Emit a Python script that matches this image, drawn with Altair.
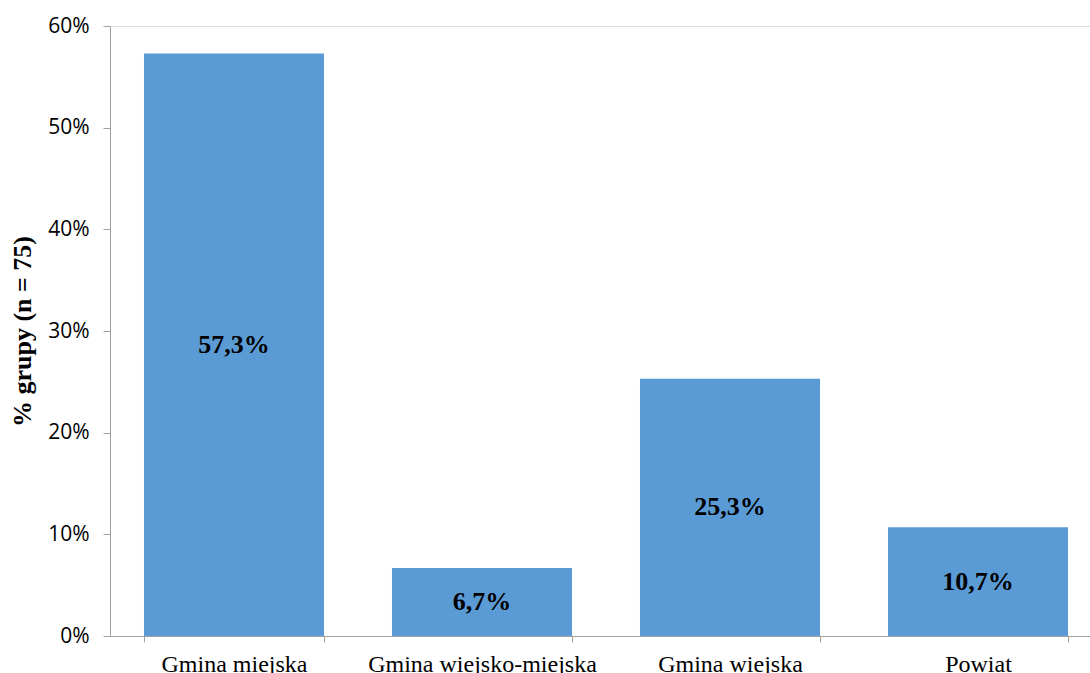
import altair as alt
import pandas as pd

categories = ["Gmina miejska", "Gmina wiejsko-miejska", "Gmina wiejska", "Powiat"]
values = [0.573, 0.067, 0.253, 0.107]
labels = ["57,3%", "6,7%", "25,3%", "10,7%"]

df = pd.DataFrame({"cat": categories, "val": values, "lab": labels})
df["mid"] = df["val"] / 2

xenc = alt.X(
    "cat:N",
    sort=categories,
    scale=alt.Scale(range=[0, 992], paddingInner=0.274, paddingOuter=0.137),
    axis=alt.Axis(
        title=None,
        labelAngle=0,
        labelFont="Liberation Serif",
        labelFontSize=24,
        labelColor="#000000",
        labelBaseline="alphabetic",
        labelPadding=29,
        labelLimit=0,
        tickBand="extent",
        tickSize=6,
        tickColor="#a0a0a0",
        domainColor="#a0a0a0",
        labelOverlap=False,
    ),
)

bars = alt.Chart(df).mark_bar(color="#5B9BD5").encode(
    x=xenc,
    y=alt.Y(
        "val:Q",
        scale=alt.Scale(domain=[0, 0.6], nice=False),
        axis=alt.Axis(
            title="% grupy (n = 75)",
            titleFont="Liberation Serif",
            titleFontSize=26,
            titleFontWeight="bold",
            titleColor="#000000",
            titleAngle=-90,
            titleX=-88,
            titleY=305,
            titleAlign="center",
            titleBaseline="middle",
            values=[0, 0.1, 0.2, 0.3, 0.4, 0.5, 0.6],
            format=".0%",
            labelFont="Open Sans",
            labelFontSize=21,
            labelColor="#000000",
            labelPadding=14,
            tickSize=7,
            tickColor="#a0a0a0",
            domainColor="#a0a0a0",
            grid=False,
        ),
    ),
)

text = alt.Chart(df).mark_text(
    font="Liberation Serif", fontSize=26, fontWeight="bold", color="#000000", baseline="middle"
).encode(
    x=alt.X("cat:N", sort=categories),
    y=alt.Y("mid:Q"),
    text="lab:N",
)

chart = (
    alt.layer(bars, text)
    .properties(
        width=980,
        height=610,
        autosize="none",
        padding={"left": 110, "top": 26, "right": 0, "bottom": 37},
    )
    .configure_view(stroke=None)
    .configure(background="#ffffff")
)

chart.save("out.html", embed_options={"renderer": "svg", "actions": False})
